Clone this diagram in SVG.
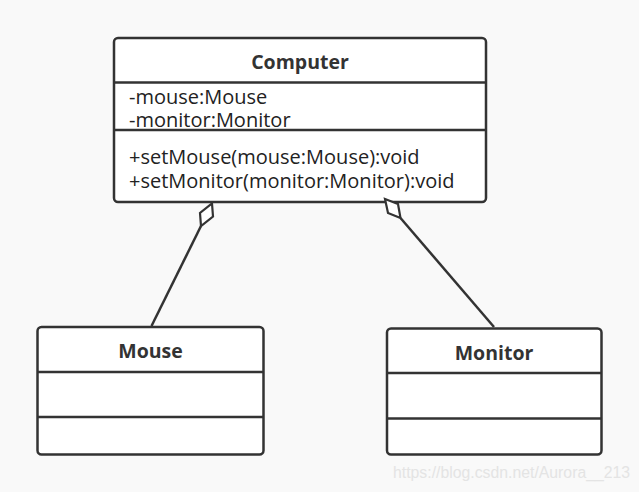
<svg xmlns="http://www.w3.org/2000/svg" width="639" height="492" viewBox="0 0 639 492">
<style>
.box{fill:#fff;stroke:#333;stroke-width:2.5}
.div{stroke:#333;stroke-width:2.5}
.title{font-family:"Open Sans","Noto Sans",sans-serif;font-weight:bold;font-size:19.5px;fill:#333;text-anchor:middle}
.mem{font-family:"Open Sans","Noto Sans",sans-serif;font-size:20px;fill:#222}
.conn{stroke:#333;stroke-width:2.5;fill:none}
.dia{stroke:#333;stroke-width:2.2;fill:#fff;stroke-linejoin:miter}
</style>
<rect width="639" height="492" fill="#f9f9f9"/>
<g id="computer">
<rect class="box" x="114" y="38" width="372" height="164" rx="4"/>
<line class="div" x1="114" y1="82.5" x2="486" y2="82.5"/>
<line class="div" x1="114" y1="130" x2="486" y2="130"/>
<text class="title" x="300" y="69">Computer</text>
<text class="mem" x="129" y="104">-mouse:Mouse</text>
<text class="mem" x="129" y="127">-monitor:Monitor</text>
<text class="mem" x="129" y="164">+setMouse(mouse:Mouse):void</text>
<text class="mem" x="129" y="188">+setMonitor(monitor:Monitor):void</text>
</g>
<g id="mouse">
<rect class="box" x="37.5" y="327" width="226" height="127.5" rx="4"/>
<line class="div" x1="37.5" y1="372" x2="263.5" y2="372"/>
<line class="div" x1="37.5" y1="417" x2="263.5" y2="417"/>
<text class="title" x="150.5" y="358">Mouse</text>
</g>
<g id="monitor">
<rect class="box" x="387" y="328.5" width="214.5" height="126" rx="4"/>
<line class="div" x1="387" y1="373" x2="601.5" y2="373"/>
<line class="div" x1="387" y1="418.5" x2="601.5" y2="418.5"/>
<text class="title" x="494" y="360">Monitor</text>
</g>
<g id="connectors">
<line class="conn" x1="201" y1="226" x2="151.5" y2="326"/>
<polygon class="dia" points="212,203.5 213,216.5 201,226 200,213"/>
<line class="conn" x1="400.5" y1="218" x2="494" y2="327"/>
<polygon class="dia" points="385,199 398,204 400.5,218 388,213"/>
</g>
<text x="393" y="478" font-family="'Liberation Sans',Arial,sans-serif" font-size="15.8" fill="#e4e4e4">https://blog.csdn.net/Aurora__213</text>
</svg>
